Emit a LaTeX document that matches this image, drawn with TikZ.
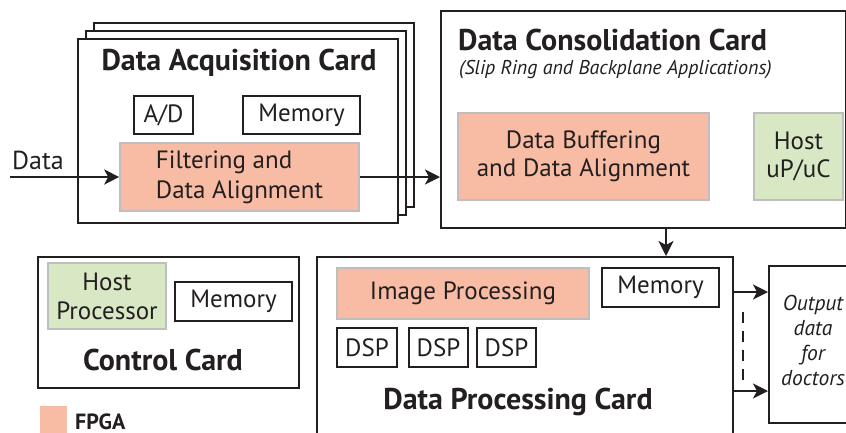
\documentclass[tikz,border=0pt]{standalone}
\usepackage{fontspec}
\setmainfont{PT Sans}
\usetikzlibrary{arrows.meta}
\definecolor{fpga}{RGB}{248,188,164}
\definecolor{hostg}{RGB}{217,232,196}
\definecolor{ink}{RGB}{35,31,32}
\definecolor{rim}{RGB}{190,190,190}
\tikzset{
  card/.style={draw=ink, line width=1.8pt, fill=white, anchor=north west, inner sep=0pt},
  part/.style={draw=ink, line width=1.7pt, fill=white, inner sep=0pt, text=ink, font=\fontsize{25}{28}\selectfont},
  fpgabox/.style={part, draw=rim, line width=1.6pt, fill=fpga},
  hostbox/.style={part, draw=rim, line width=1.6pt, fill=hostg},
  cardtitle/.style={inner sep=0pt, text=ink, font=\fontsize{30}{34}\selectfont\bfseries},
  arr/.style={draw=ink, line width=2.2pt, -{Stealth[length=15pt,width=15pt,inset=4pt]}},
}
\begin{document}
\begin{tikzpicture}[x=1pt,y=-1pt]
\useasboundingbox (0,0) rectangle (846,432);
\clip (0,0) rectangle (846,432);

% stacked acquisition cards
\node[card, minimum width=320pt, minimum height=184pt] (acq3) at (93,22) {};
\node[card, minimum width=320pt, minimum height=184pt] (acq2) at (85,30) {};
\node[card, minimum width=320pt, minimum height=184pt] (acq) at (77,38) {};
\node[cardtitle] (acqt) at (239,63) {Data Acquisition Card};
\node[part, minimum width=59pt, minimum height=38pt] (ad) at (163.5,115) {A/D};
\node[part, minimum width=117pt, minimum height=38pt] (mem1) at (301.5,115) {Memory};
\node[fpgabox, minimum width=239pt, minimum height=68pt, align=left, font=\fontsize{25}{30}\selectfont] (filt) at (239.5,177) {Filtering and\\Data Alignment};
\node[inner sep=0pt, text=ink, font=\fontsize{26}{28}\selectfont] (dlab) at (38,160) {Data};
\coordinate (din) at (10,177);

% consolidation card
\node[card, minimum width=405pt, minimum height=217pt] (cons) at (440,10) {};
\node[cardtitle, anchor=west] (const) at (458,40) {Data Consolidation Card};
\node[inner sep=0pt, anchor=west, text=ink, font=\fontsize{20}{22}\selectfont\itshape] (conss) at (459,70) {(Slip Ring and Backplane Applications)};
\node[fpgabox, minimum width=251pt, minimum height=87pt, align=center, font=\fontsize{25}{28}\selectfont] (buf) at (583.5,156.5) {Data Buffering\\and Data Alignment};
\node[hostbox, minimum width=89pt, minimum height=87pt, align=center, font=\fontsize{25}{28}\selectfont] (hostc) at (798.5,156.5) {Host\\uP/uC};

% control card
\node[card, minimum width=261pt, minimum height=131pt] (ctrl) at (37,256) {};
\node[hostbox, minimum width=118pt, minimum height=66pt, align=center, font=\fontsize{25}{29}\selectfont] (hostp) at (107,296) {Host\\Processor};
\node[part, minimum width=117pt, minimum height=39pt] (mem2) at (233.5,301.5) {Memory};
\node[cardtitle] (ctrlt) at (163,360) {Control Card};

% legend
\node[fill=fpga, minimum width=27pt, minimum height=30pt, anchor=north west, inner sep=0pt] (leg) at (40,406) {};
\node[inner sep=0pt, anchor=base west, text=ink, font=\fontsize{22}{24}\selectfont\bfseries] (legt) at (75,429) {FPGA};

% processing card
\node[card, minimum width=416pt, minimum height=200pt] (proc) at (316,256) {};
\node[fpgabox, minimum width=252pt, minimum height=51pt] (imgp) at (463,293.5) {Image Processing};
\node[part, minimum width=117pt, minimum height=39pt] (mem3) at (660.5,287.5) {Memory};
\node[part, minimum width=60pt, minimum height=39pt] (dsp1) at (367,347.5) {DSP};
\node[part, minimum width=59pt, minimum height=39pt] (dsp2) at (438.5,347.5) {DSP};
\node[part, minimum width=59pt, minimum height=39pt] (dsp3) at (506.5,347.5) {DSP};
\node[cardtitle] (proct) at (518,402) {Data Processing Card};

% output box
\node[card, minimum width=82pt, minimum height=157pt] (out) at (768,265) {};
\node[inner sep=0pt, text=ink, align=center, font=\fontsize{21.5}{25}\selectfont\itshape] (outt) at (813,340) {Output\\data\\for\\doctors};

% connectors
\draw[arr] (din) -- (filt.west);
\draw[arr] (filt.east) -- (filt.east -| cons.west);
\coordinate (cdown) at (666,227);
\draw[arr] (cdown) -- (cdown |- proc.north);
\coordinate (o1) at (732,292);
\coordinate (o2) at (732,391);
\draw[arr] (o1) -- (o1 -| out.west);
\draw[arr] (o2) -- (o2 -| out.west);
\coordinate (dtop) at (743,312);
\coordinate (dbot) at (743,382);
\draw[draw=ink, line width=1.6pt, dash pattern=on 11pt off 8pt] (dtop) -- (dbot);
\end{tikzpicture}
\end{document}
